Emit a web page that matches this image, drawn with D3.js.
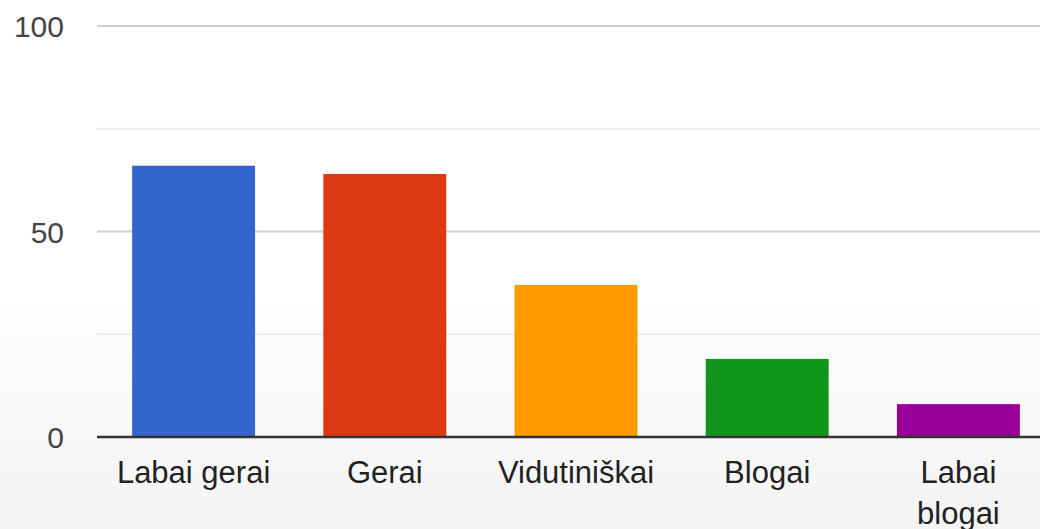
<!DOCTYPE html>
<html><head><meta charset="utf-8">
<script src="https://cdn.jsdelivr.net/npm/d3@7"></script>
<style>html,body{margin:0;padding:0;overflow:hidden;background:#fff}</style>
</head><body>
<svg id="c" width="1040" height="529"></svg>
<script>
const categories = ["Labai gerai", "Gerai", "Vidutiniškai", "Blogai", "Labai blogai"];
const values = [66, 64, 37, 19, 8];
const colors = ["#3366cc", "#dc3912", "#ff9900", "#109618", "#990099"];
const majorTicks = [0, 50, 100];
const minorTicks = [25, 75];

const svg = d3.select("#c");
const W = 1040, H = 529;
const defs = svg.append("defs");
const grad = defs.append("linearGradient").attr("id", "bg").attr("x1", 0).attr("y1", 0).attr("x2", 0).attr("y2", 1);
grad.append("stop").attr("offset", "0%").attr("stop-color", "#ffffff");
grad.append("stop").attr("offset", "55%").attr("stop-color", "#ffffff");
grad.append("stop").attr("offset", "100%").attr("stop-color", "#f3f3f3");
svg.append("rect").attr("width", W).attr("height", H).attr("fill", "url(#bg)");

const x = d3.scaleBand().domain(categories).range([98, 1054]).paddingInner(0.357).paddingOuter(0.1785);
const y = d3.scaleLinear().domain([0, 100]).range([437, 26]);
const font = "'Liberation Sans', Arial, sans-serif";

svg.selectAll("line.minor").data(minorTicks).enter().append("line")
  .attr("x1", 97).attr("x2", W).attr("y1", d => y(d)).attr("y2", d => y(d))
  .attr("stroke", "#ebebeb").attr("stroke-width", 2);
svg.selectAll("line.major").data(majorTicks.filter(d => d !== 0)).enter().append("line")
  .attr("x1", 97).attr("x2", W).attr("y1", d => y(d)).attr("y2", d => y(d))
  .attr("stroke", "#d0d0d0").attr("stroke-width", 2);

svg.selectAll("rect.bar").data(values).enter().append("rect")
  .attr("x", (d, i) => x(categories[i])).attr("width", x.bandwidth())
  .attr("y", d => y(d)).attr("height", d => y(0) - y(d))
  .attr("fill", (d, i) => colors[i]);

svg.append("line").attr("x1", 97).attr("x2", W).attr("y1", y(0)).attr("y2", y(0))
  .attr("stroke", "#333").attr("stroke-width", 2.5);

svg.selectAll("text.yl").data(majorTicks).enter().append("text")
  .attr("x", 64).attr("y", d => y(d) + 11).attr("text-anchor", "end")
  .attr("font-family", font).attr("font-size", 30).attr("fill", "#444")
  .text(d => d);

const lines = c => c === "Labai blogai" ? ["Labai", "blogai"] : [c];
categories.forEach(c => {
  const t = svg.append("text").attr("text-anchor", "middle")
    .attr("font-family", font).attr("font-size", 31).attr("fill", "#222");
  lines(c).forEach((s, j) => {
    t.append("tspan").attr("x", x(c) + x.bandwidth() / 2).attr("y", 483 + j * 41).text(s);
  });
});
</script>
</body></html>
